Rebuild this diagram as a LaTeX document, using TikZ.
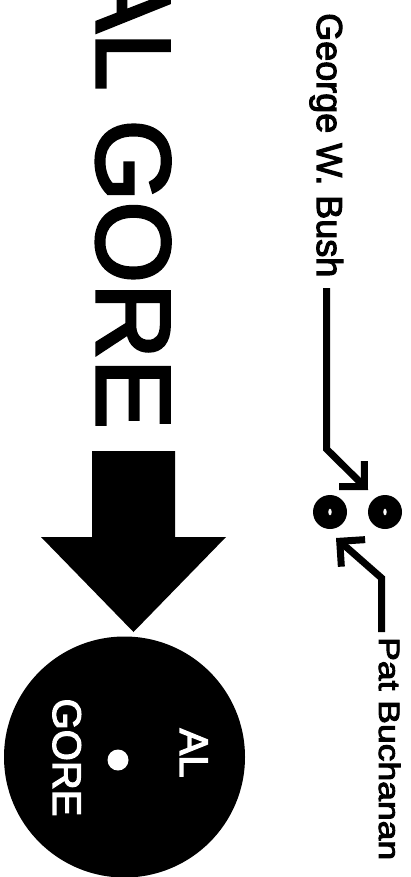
\documentclass[tikz,border=0pt]{standalone}
\usepackage{fontspec}
\usetikzlibrary{arrows.meta}
\newfontfamily\lab{Liberation Sans}[FakeBold=3]
\begin{document}
\begin{tikzpicture}[x=1pt,y=-1pt,
  lbl/.style={inner sep=0pt, rotate=-90},
  conn/.style={line width=7pt, line join=miter,
    -{Straight Barb[length=18pt,width=36pt,sharp]}},
  hole/.style={fill=white}]
\useasboundingbox (0,0) rectangle (410,877);
\clip (0,0) rectangle (410,877);
\fill[white] (0,0) rectangle (410,877);

% big title
\node[lbl, anchor=base west, font={\lab\fontsize{105}{110}\selectfont}] (title) at (97,-38) {AL GORE};

% big arrow
\fill (92,451) -- (175,451) -- (175,537) -- (226,537) -- (133.5,632) -- (41,537) -- (92,537) -- cycle;

% big circle
\node[circle, fill=black, minimum size=241pt, inner sep=0pt] (gore) at (124.5,757) {};
\node[circle, fill=white, minimum size=21pt, inner sep=0pt] (goredot) at (118,760) {};
\node[lbl, anchor=base, text=white, font={\lab\fontsize{40}{44}\selectfont}] (al) at (180,753) {AL};
\node[lbl, anchor=base, text=white, font={\lab\fontsize{40}{44}\selectfont}] (gorelbl) at (53,757.5) {GORE};

% small dots
\node[circle, fill=black, minimum size=34pt, inner sep=0pt] (bushdot) at (330,512) {};
\node[circle, fill=black, minimum size=34pt, inner sep=0pt] (patdot) at (385,512) {};
\fill[hole] (bushdot.center) ellipse [x radius=1.7, y radius=3.3];
\fill[hole] (patdot.center) ellipse [x radius=1.7, y radius=3.3];

% labels
\node[lbl, anchor=base west, font={\lab\fontsize{36}{40}\selectfont}] (bush) at (317,13) {George W. Bush};
\node[lbl, anchor=base west, yscale=0.83, font={\lab\fontsize{35.5}{40}\selectfont}] (pat) at (379,637) {Pat Buchanan};

% connectors
\coordinate (bushStart) at (326.5,288);
\coordinate (bushBend) at (326.5,449);
\coordinate (bushTip) at (368,490);
\coordinate (patStart) at (381.5,632);
\coordinate (patBend) at (381.5,578);
\coordinate (patTip) at (336,538);
\draw[conn] (bushStart) -- (bushBend) -- (bushTip);
\draw[conn] (patStart) -- (patBend) -- (patTip);
\end{tikzpicture}
\end{document}
